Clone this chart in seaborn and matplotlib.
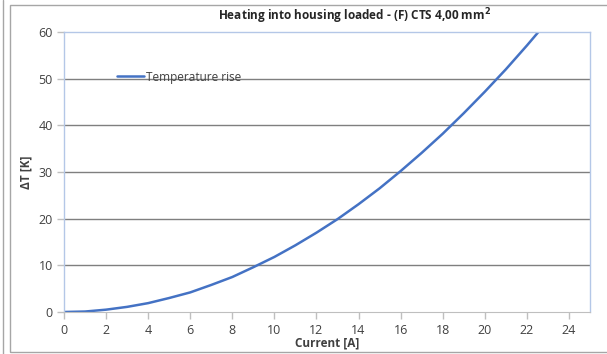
import matplotlib
matplotlib.use("Agg")
import matplotlib.pyplot as plt
import seaborn as sns
import pandas as pd
from matplotlib.patches import Rectangle
from matplotlib.lines import Line2D

# values
current = [0, 1, 2, 3, 4, 5, 6, 7, 8, 9, 10, 11, 12, 13, 14, 15, 16,
           17, 18, 19, 20, 21, 22, 23, 24]
temp_rise = [0, 0.1, 0.5, 1.1, 1.9, 3.0, 4.2, 5.8, 7.5, 9.6, 11.8, 14.3, 17.0,
             19.9, 23.1, 26.5, 30.2, 34.1, 38.2, 42.6, 47.2, 52.0, 57.1, 62.4, 68.0]
x_ticks = list(range(0, 25, 2))
y_ticks = list(range(0, 61, 10))

df = pd.DataFrame({"Current [A]": current, "Temperature rise": temp_rise})

sns.set_style("white")
plt.rcParams["font.family"] = ["Open Sans", "DejaVu Sans"]

fig = plt.figure(figsize=(6.07, 3.54), dpi=100)
ax = fig.add_axes([64 / 607, 1 - 312 / 354, (590 - 64) / 607, (312 - 32) / 354])

# outer chart frame
fig.add_artist(Line2D([3 / 607, 3 / 607], [0, 1], color="#a6a6a6", lw=1))
fig.add_artist(Rectangle((10 / 607, 2 / 354), 1.0, 1 - 7 / 354, fill=False,
                         edgecolor="#a6a6a6", lw=1, transform=fig.transFigure))

sns.lineplot(data=df, x="Current [A]", y="Temperature rise", ax=ax,
             color="#4472c4", lw=1.8, label="Temperature rise")

ax.set_xlim(0, 25)
ax.set_ylim(0, 60)
ax.set_xticks(x_ticks)
ax.set_yticks(y_ticks)
for y in y_ticks[1:-1]:
    ax.axhline(y, color="#7f7f7f", lw=1, zorder=0)

for side in ["top", "right", "left"]:
    ax.spines[side].set_color("#b4c7e7")
    ax.spines[side].set_linewidth(1)
ax.spines["bottom"].set_color("#bfbfbf")
ax.tick_params(axis="both", length=5, width=1, color="#bfbfbf",
               labelsize=9, labelcolor="#404040", direction="out")
ax.tick_params(axis="x", pad=4)
ax.tick_params(axis="y", pad=3)
ax.xaxis.set_ticks_position("bottom")
ax.yaxis.set_ticks_position("left")

ax.set_xlabel("Current [A]", fontsize=8.5, fontweight="bold", color="#404040", labelpad=-1)
ax.set_ylabel("ΔT [K]", fontsize=8.5, fontweight="bold", color="#404040", labelpad=4)

ax.legend(loc="upper left", bbox_to_anchor=(0.08, 0.9), frameon=False,
          fontsize=8.5, handlelength=2.3, handletextpad=0.2, labelcolor="#404040")

fig.text(355 / 607, 1 - 16 / 354, "Heating into housing loaded - (F) CTS 4,00 mm$^\\mathbf{2}$",
         ha="center", va="center", fontsize=8.5, fontweight="bold", color="#262626")

fig.savefig("out.png", dpi=100)
